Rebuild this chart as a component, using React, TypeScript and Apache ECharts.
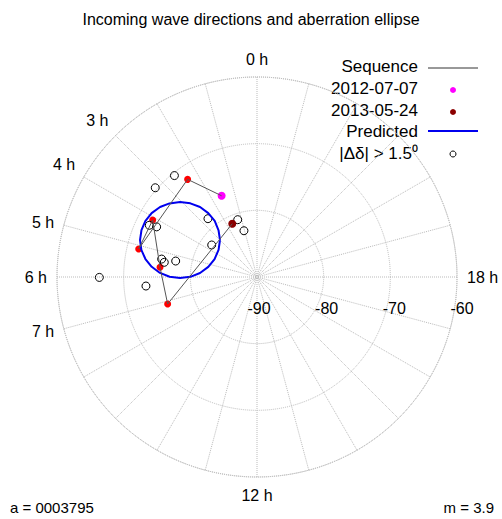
import React, { useEffect, useRef } from 'react';
import * as echarts from 'echarts';

// [hour, declination]
const sequence: number[][] = [
  [1.57, -76.71], [2.36, -72.03], [5.11, -71.76], [4.09, -72.17],
  [5.62, -75.38], [7.12, -76.0], [1.66, -81.19],
];
const firstObs: number[][] = [[1.57, -76.71]];
const lastObs: number[][] = [[1.66, -81.19]];
const outliers: number[][] = [
  [2.61, -70.38], [3.25, -69.7], [2.67, -78.57], [1.24, -80.93], [1.05, -82.79],
  [4.29, -72.08], [4.23, -73.17], [3.65, -81.68], [5.29, -75.45], [5.4, -75.92],
  [5.26, -77.57], [6.01, -66.35], [6.31, -73.29],
];
const predicted: number[][] = [
  [3.0, -82.15], [2.63, -80.92], [2.47, -79.47], [2.49, -77.95], [2.61, -76.47],
  [2.81, -75.1], [3.05, -73.88], [3.33, -72.85], [3.61, -72.06], [3.92, -71.52],
  [4.23, -71.27], [4.53, -71.3], [4.83, -71.6], [5.12, -72.18], [5.39, -73.05],
  [5.63, -74.13], [5.84, -75.44], [5.99, -76.89], [6.05, -78.45], [5.99, -80.01],
  [5.73, -81.43], [5.22, -82.54], [4.47, -83.09], [3.65, -82.94], [3.0, -82.15],
];
const hourLabels = [0, 3, 4, 5, 6, 7, 12, 18];
const legendNames = ['Sequence', '2012-07-07', '2013-05-24', 'Predicted', '|Δδ| > 1.5⁰'];

const font = 'Liberation Sans, Arial, sans-serif';
const grid = { color: '#bbb', type: 'dotted' as const, width: 1 };
const flip = (p: number[]) => [p[1], p[0]];

const App: React.FC = () => {
  const chartRef = useRef<HTMLDivElement>(null);

  useEffect(() => {
    if (!chartRef.current) return;
    const chart = echarts.init(chartRef.current, undefined, { renderer: 'svg' });
    const ly = [68, 90, 112, 133, 155];
    const legend: any[] = legendNames.map((n, i) => ({
      type: 'text', right: 84, top: ly[i] - 10,
      style: { text: n, font: `17px ${font}`, fill: '#000', textAlign: 'right' },
    }));
    legend.push(
      { type: 'line', shape: { x1: 428, y1: 68, x2: 478, y2: 68 }, style: { stroke: '#333', lineWidth: 1 } },
      { type: 'circle', shape: { cx: 453, cy: 90, r: 3 }, style: { fill: '#ff00ff' } },
      { type: 'circle', shape: { cx: 453, cy: 112, r: 3 }, style: { fill: '#8b0000' } },
      { type: 'line', shape: { x1: 428, y1: 131, x2: 478, y2: 131 }, style: { stroke: '#0000ee', lineWidth: 2 } },
      { type: 'circle', shape: { cx: 453, cy: 154, r: 3 }, style: { fill: 'none', stroke: '#000', lineWidth: 1 } },
    );
    const pt = { opacity: 1 };
    chart.setOption({
      animation: false,
      backgroundColor: '#fff',
      title: {
        text: 'Incoming wave directions and aberration ellipse', left: 'center', top: 6,
        textStyle: { fontFamily: font, fontSize: 16, fontWeight: 'normal', color: '#000' },
      },
      polar: [
        { center: [257, 277], radius: 200 },
        { center: [259, 336], radius: 203 },
      ],
      angleAxis: [
        {
          polarIndex: 0, type: 'value', min: 0, max: 24, interval: 1, startAngle: 90, clockwise: false,
          axisLine: { lineStyle: grid }, axisTick: { show: false },
          splitLine: { lineStyle: grid },
          axisLabel: {
            margin: 10, fontFamily: font, fontSize: 16, color: '#000',
            formatter: (v: number) => (hourLabels.includes(v) ? `${v} h` : ''),
          },
        },
        {
          polarIndex: 1, type: 'value', min: 0, max: 24, startAngle: 0, clockwise: true,
          axisLine: { show: false }, axisTick: { show: false }, axisLabel: { show: false }, splitLine: { show: false },
        },
      ],
      radiusAxis: [
        {
          polarIndex: 0, min: -90, max: -60, interval: 10,
          axisLine: { show: false }, axisTick: { show: false }, axisLabel: { show: false },
          splitLine: { lineStyle: grid },
        },
        {
          polarIndex: 1, min: -90, max: -60, interval: 10,
          axisLine: { show: false }, axisTick: { show: false }, splitLine: { show: false },
          axisLabel: { margin: 20, fontFamily: font, fontSize: 16, color: '#000' },
        },
      ],
      graphic: legend.concat([
        { type: 'text', left: 10, bottom: 4, style: { text: 'a = 0003795', font: `15px ${font}`, fill: '#000' } },
        { type: 'text', right: 8, bottom: 4, style: { text: 'm = 3.9', font: `15px ${font}`, fill: '#000' } },
      ]),
      series: [
        {
          type: 'line', coordinateSystem: 'polar', polarIndex: 0, data: predicted.map(flip),
          symbol: 'none', lineStyle: { color: '#0000ee', width: 2 },
        },
        {
          type: 'line', coordinateSystem: 'polar', polarIndex: 0, data: sequence.map(flip),
          symbol: 'none', lineStyle: { color: '#555', width: 1 },
        },
        {
          type: 'scatter', coordinateSystem: 'polar', polarIndex: 0, data: sequence.slice(1, -1).map(flip),
          symbolSize: 7, itemStyle: { color: '#ff0000', ...pt },
        },
        {
          type: 'scatter', coordinateSystem: 'polar', polarIndex: 0, data: outliers.map(flip),
          symbolSize: 8, itemStyle: { color: 'transparent', borderColor: '#000', borderWidth: 1, ...pt },
        },
        {
          type: 'scatter', coordinateSystem: 'polar', polarIndex: 0, data: firstObs.map(flip),
          symbolSize: 8, itemStyle: { color: '#ff00ff', ...pt },
        },
        {
          type: 'scatter', coordinateSystem: 'polar', polarIndex: 0, data: lastObs.map(flip),
          symbolSize: 8, itemStyle: { color: '#8b0000', ...pt },
        },
      ],
    });
    return () => chart.dispose();
  }, []);

  return <div ref={chartRef} style={{ position: 'fixed', left: 0, top: 0, width: 502, height: 519 }} />;
};

export default App;
